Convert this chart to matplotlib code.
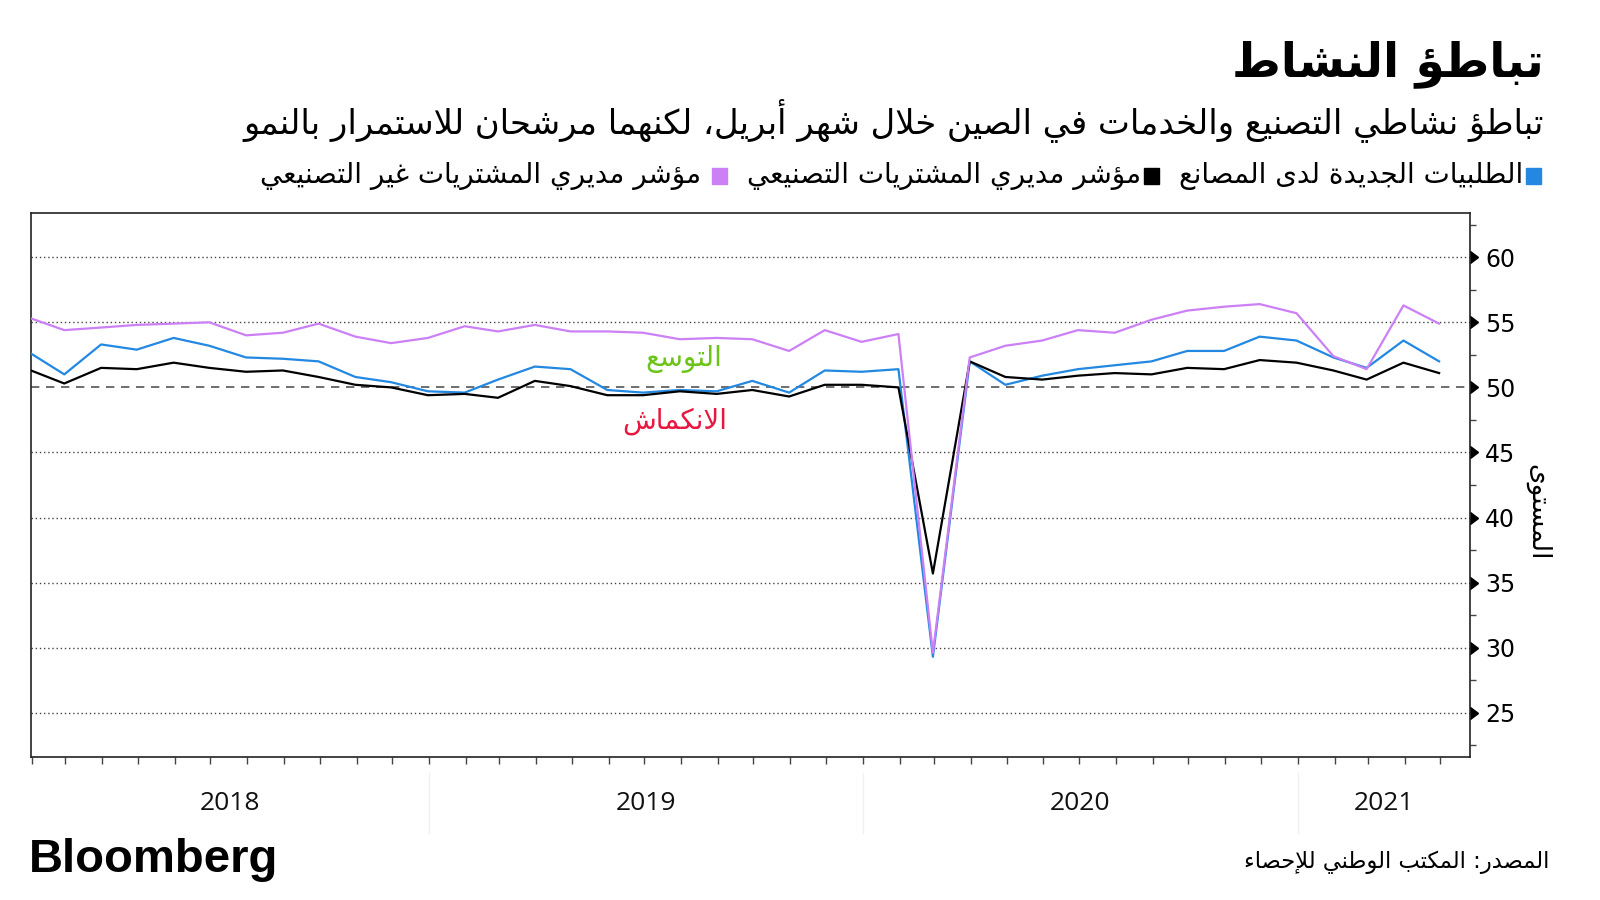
import pandas as pd
import matplotlib
matplotlib.use("Agg")
import matplotlib.pyplot as plt
import matplotlib.dates as mdates
import matplotlib.transforms as mtransforms
from matplotlib.patches import Rectangle
from matplotlib.markers import CARETRIGHTBASE

# Monthly readings, Jan 2018 - Apr 2021 (plotted at month end)
dates = pd.date_range("2018-01-31", periods=40, freq="ME")

new_orders = [52.6, 51.0, 53.3, 52.9, 53.8, 53.2, 52.3, 52.2, 52.0, 50.8, 50.4, 49.7,
              49.6, 50.6, 51.6, 51.4, 49.8, 49.6, 49.8, 49.7, 50.5, 49.6, 51.3, 51.2,
              51.4, 29.3, 52.0, 50.2, 50.9, 51.4, 51.7, 52.0, 52.8, 52.8, 53.9, 53.6,
              52.3, 51.5, 53.6, 52.0]
manufacturing = [51.3, 50.3, 51.5, 51.4, 51.9, 51.5, 51.2, 51.3, 50.8, 50.2, 50.0, 49.4,
                 49.5, 49.2, 50.5, 50.1, 49.4, 49.4, 49.7, 49.5, 49.8, 49.3, 50.2, 50.2,
                 50.0, 35.7, 52.0, 50.8, 50.6, 50.9, 51.1, 51.0, 51.5, 51.4, 52.1, 51.9,
                 51.3, 50.6, 51.9, 51.1]
non_manufacturing = [55.3, 54.4, 54.6, 54.8, 54.9, 55.0, 54.0, 54.2, 54.9, 53.9, 53.4, 53.8,
                     54.7, 54.3, 54.8, 54.3, 54.3, 54.2, 53.7, 53.8, 53.7, 52.8, 54.4, 53.5,
                     54.1, 29.6, 52.3, 53.2, 53.6, 54.4, 54.2, 55.2, 55.9, 56.2, 56.4, 55.7,
                     52.4, 51.4, 56.3, 54.9]

years = [2018, 2019, 2020, 2021]
yticks = [25, 30, 35, 40, 45, 50, 55, 60]

title = "تباطؤ النشاط"
subtitle = "تباطؤ نشاطي التصنيع والخدمات في الصين خلال شهر أبريل، لكنهما مرشحان للاستمرار بالنمو"
legend_labels = ["الطلبيات الجديدة لدى المصانع", "مؤشر مديري المشتريات التصنيعي",
                 "مؤشر مديري المشتريات غير التصنيعي"]
ylabel = "المستوى"
source = "المصدر: المكتب الوطني للإحصاء"

BLUE = "#2288e2"
BLACK = "#000000"
PURPLE = "#cc80f5"
colors = [BLUE, BLACK, PURPLE]

# --- minimal Arabic shaping (matplotlib does no shaping / bidi) ---
FORMS = {
    "\u0621": (0xFE80, 1), "\u0622": (0xFE81, 2), "\u0623": (0xFE83, 2),
    "\u0624": (0xFE85, 2), "\u0625": (0xFE87, 2), "\u0626": (0xFE89, 4),
    "\u0627": (0xFE8D, 2), "\u0628": (0xFE8F, 4), "\u0629": (0xFE93, 2),
    "\u062A": (0xFE95, 4), "\u062B": (0xFE99, 4), "\u062C": (0xFE9D, 4),
    "\u062D": (0xFEA1, 4), "\u062E": (0xFEA5, 4), "\u062F": (0xFEA9, 2),
    "\u0630": (0xFEAB, 2), "\u0631": (0xFEAD, 2), "\u0632": (0xFEAF, 2),
    "\u0633": (0xFEB1, 4), "\u0634": (0xFEB5, 4), "\u0635": (0xFEB9, 4),
    "\u0636": (0xFEBD, 4), "\u0637": (0xFEC1, 4), "\u0638": (0xFEC5, 4),
    "\u0639": (0xFEC9, 4), "\u063A": (0xFECD, 4), "\u0641": (0xFED1, 4),
    "\u0642": (0xFED5, 4), "\u0643": (0xFED9, 4), "\u0644": (0xFEDD, 4),
    "\u0645": (0xFEE1, 4), "\u0646": (0xFEE5, 4), "\u0647": (0xFEE9, 4),
    "\u0648": (0xFEED, 2), "\u0649": (0xFEEF, 2), "\u064A": (0xFEF1, 4),
}
LAM_ALEF = {"\u0622": 0xFEF5, "\u0623": 0xFEF7, "\u0625": 0xFEF9, "\u0627": 0xFEFB}


def ar(text):
    tokens = []
    i = 0
    while i < len(text):
        c = text[i]
        if c == "\u0644" and i + 1 < len(text) and text[i + 1] in LAM_ALEF:
            tokens.append((None, LAM_ALEF[text[i + 1]], 2))
            i += 2
            continue
        if c in FORMS:
            tokens.append((c, FORMS[c][0], FORMS[c][1]))
        else:
            tokens.append((c, None, 0))
        i += 1
    out = []
    for k, (c, base, n) in enumerate(tokens):
        if base is None:
            out.append(c)
            continue
        prev_n = tokens[k - 1][2] if k > 0 else 0
        next_n = tokens[k + 1][2] if k + 1 < len(tokens) else 0
        jp = prev_n == 4 and n >= 2
        jn = n == 4 and next_n >= 2
        if jp and jn:
            off = 3
        elif jp:
            off = 1
        elif jn:
            off = 2
        else:
            off = 0
        out.append(chr(base + off))
    return "".join(out)[::-1]


AR_FONT = ["DejaVu Sans"]

fig = plt.figure(figsize=(16, 9), dpi=100)
renderer = fig.canvas.get_renderer()


def fit_width(t, width_px):
    w = t.get_window_extent(renderer).width
    t.set_fontsize(t.get_fontsize() * width_px / w)


ax = fig.add_axes([31 / 1600, 1 - 757 / 900, 1439 / 1600, 544 / 900])

ax.plot(dates, new_orders, color=BLUE, lw=1.6, zorder=3)
ax.plot(dates, manufacturing, color=BLACK, lw=1.6, zorder=3)
ax.plot(dates, non_manufacturing, color=PURPLE, lw=1.6, zorder=4)

ax.set_xlim(dates[0], pd.Timestamp("2021-05-26"))
ax.set_ylim(21.6, 63.4)

for y in yticks:
    if y == 50:
        ax.axhline(y, color="#555555", lw=1.2, ls=(0, (5, 4)), zorder=1)
    else:
        ax.axhline(y, color="#444444", lw=1.0, ls=(0, (1, 2)), zorder=1)

for sp in ax.spines.values():
    sp.set_linewidth(1.2)
    sp.set_color("#222222")

# y axis on the right with arrow ticks
ax.yaxis.tick_right()
ax.set_yticks(yticks)
ax.set_yticks([y + 2.5 for y in [20] + yticks], minor=True)
ax.tick_params(axis="y", which="major", length=0, pad=11, labelsize=17)
ax.tick_params(axis="y", which="minor", length=4, width=1, direction="out", color="#444444")
ytrans = mtransforms.blended_transform_factory(ax.transAxes, ax.transData)
ax.plot([1] * len(yticks), yticks, transform=ytrans, ls="none", marker=CARETRIGHTBASE,
        ms=8, color="black", clip_on=False, zorder=5)

# monthly ticks, year labels centred on visible part of each year
ax.xaxis.set_major_locator(mdates.MonthLocator())
ax.xaxis.set_major_formatter(plt.NullFormatter())
ax.tick_params(axis="x", length=5, width=1, color="#444444")
xtrans = mtransforms.blended_transform_factory(ax.transData, ax.transAxes)
x0, x1 = ax.get_xlim()
for yr in years:
    a = max(mdates.date2num(pd.Timestamp(f"{yr}-01-01")), x0)
    b = min(mdates.date2num(pd.Timestamp(f"{yr + 1}-01-01")), x1)
    ax.text((a + b) / 2, -0.085, str(yr), transform=xtrans, ha="center", va="center",
            fontsize=19, family="Open Sans", color="#111111")
    if yr > years[0]:
        ax.plot([a, a], [-0.03, -0.14], transform=xtrans, color="#f0f0f0", lw=1,
                clip_on=False)

ax.text(0.454, 0.732, ar("التوسع"), transform=ax.transAxes, ha="center", va="center",
        fontsize=20, color="#6cc417", family=AR_FONT)
ax.text(0.4475, 0.618, ar("الانكماش"), transform=ax.transAxes, ha="center", va="center",
        fontsize=20, color="#e8173f", family=AR_FONT)

fig.text(1538 / 1600, 1 - 512 / 900, ar(ylabel), rotation=-90, ha="center", va="center",
         fontsize=19, family=AR_FONT)

# header
t = fig.text(1544 / 1600, 1 - 64 / 900, ar(title), ha="right", va="center",
             fontsize=36, weight="bold", family=AR_FONT)
fit_width(t, 312)
t = fig.text(1544 / 1600, 1 - 120 / 900, ar(subtitle), ha="right", va="center",
             fontsize=22, family=AR_FONT)
fit_width(t, 1302)

# legend, laid out right to left
leg_texts = []
for lab in legend_labels:
    leg_texts.append(fig.text(0, 1 - 176 / 900, ar(lab), ha="right", va="center",
                              fontsize=20, family=AR_FONT))
total = sum(tt.get_window_extent(renderer).width for tt in leg_texts)
for tt in leg_texts:
    tt.set_fontsize(20 * 1180 / total)
x = 1541
sq = 15
for tt, col, gap in zip(leg_texts, colors, [3, 3, 10]):
    fig.patches.append(Rectangle(((x - sq) / 1600, 1 - (176 + sq / 2) / 900), sq / 1600,
                                 sq / 900, transform=fig.transFigure, color=col))
    x -= sq + gap
    tt.set_x(x / 1600)
    x -= tt.get_window_extent(renderer).width + 20

# footer
t = fig.text(29 / 1600, 1 - 860 / 900, "Bloomberg", ha="left", va="center",
             fontsize=30, weight="bold", family=["Liberation Sans Narrow", "Liberation Sans"])
fit_width(t, 249)
t = fig.text(1549 / 1600, 1 - 862 / 900, ar(source), ha="right", va="center",
             fontsize=18, family=AR_FONT)
fit_width(t, 306)

fig.savefig("out.png", dpi=100)
